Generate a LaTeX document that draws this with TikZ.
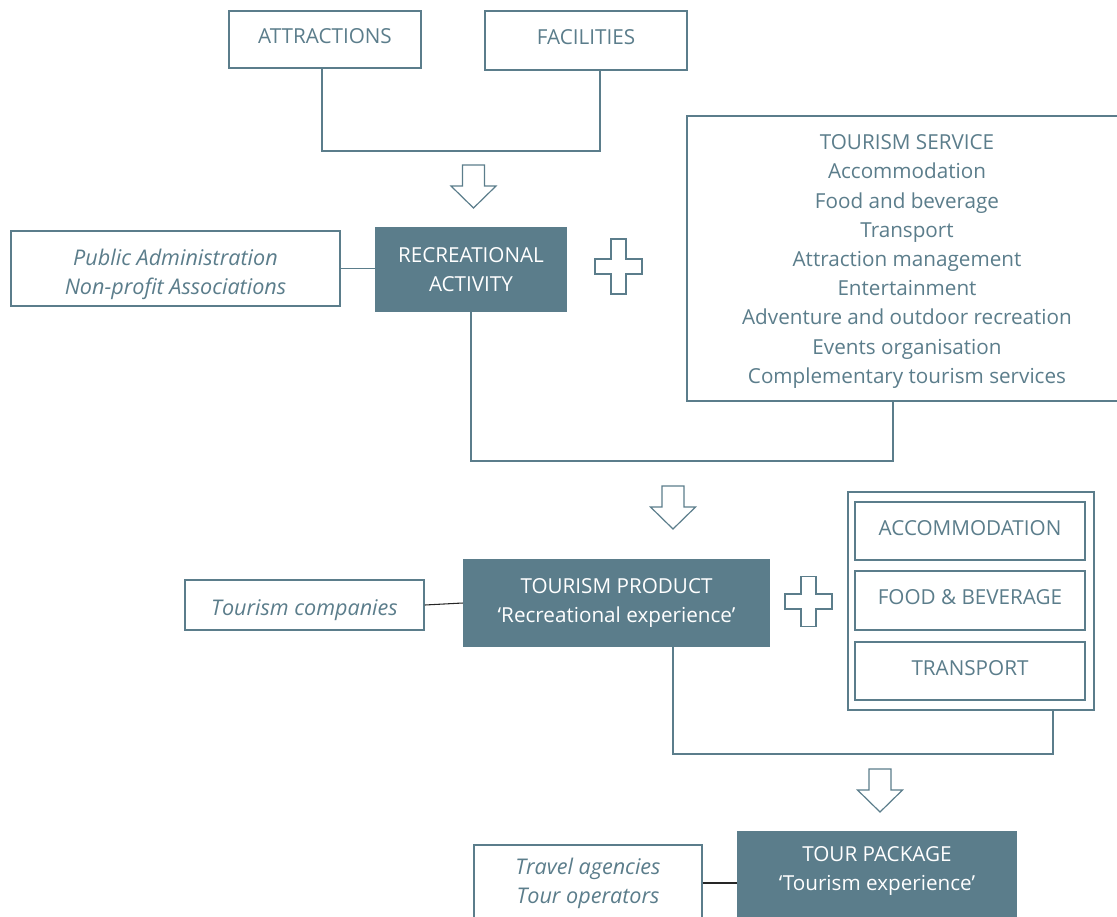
\documentclass[tikz,border=0pt]{standalone}
\usepackage{fontspec}
\setmainfont{Open Sans}
\usetikzlibrary{positioning}
\definecolor{slateteal}{RGB}{91,125,139}

\begin{document}
\begin{tikzpicture}[x=0.75pt,y=-0.75pt,font=\fontsize{15.5}{21.9}\selectfont]
  \tikzstyle{box}=[draw=slateteal,line width=1.3pt,fill=white,inner sep=0pt,
    align=center,text=slateteal]
  \tikzstyle{capsbox}=[box,text depth=4.5pt]
  \tikzstyle{core}=[fill=slateteal,inner sep=0pt,align=center,text=white]
  \tikzstyle{actor}=[box,font=\fontsize{16.2}{21.9}\selectfont\itshape]
  \tikzstyle{actortext}=[inner sep=0pt,align=center,text=slateteal,font=\fontsize{16.2}{21.9}\selectfont\itshape]
  \tikzstyle{conn}=[draw=slateteal,line width=1.3pt]
  \tikzstyle{link}=[draw=black!85,line width=0.8pt]
  \tikzstyle{hollow}=[draw=slateteal,line width=0.9pt,line join=miter]
  \useasboundingbox (0,0) rectangle (1117,917);
  \clip (0,0) rectangle (1117,917);
  % top row
  \node[capsbox,minimum width=144pt,minimum height=42.75pt] (attr) at (325,39.5) {ATTRACTIONS};
  \node[capsbox,minimum width=151.5pt,minimum height=44.25pt] (fac) at (586,40.5) {FACILITIES};
  \draw[conn] ([xshift=-2.25pt]attr.south) -- ++(0,82) -| ([xshift=10.5pt]fac.south);
  \coordinate (arrA) at (473.5,165);
  \draw[hollow] (arrA) ++(-11,0) -- ++(0,21) -- ++(-11.5,0) -- ++(22.5,22) -- ++(22.5,-22)
    -- ++(-11.5,0) -- ++(0,-21) -- cycle;
  % recreational activity
  \node[core,minimum width=144pt,minimum height=63.75pt] (recr) at (471,269.5) {RECREATIONAL\\ACTIVITY};
  \node[box,minimum width=246.75pt,minimum height=56.25pt,
    label={[actortext,yshift=-4.5pt]center:{Public Administration\\Non-profit Associations}}] (pub) at (175.5,268.5) {};
  \draw[conn] (pub.east) -- (pub.east -| recr.west);
  \coordinate (plusA) at (618.5,266.5);
  \draw[hollow] (plusA) ++(-7.5,-27.5) -- ++(15,0) -- ++(0,20) -- ++(16,0) -- ++(0,15)
    -- ++(-16,0) -- ++(0,20) -- ++(-15,0) -- ++(0,-20) -- ++(-16,0) -- ++(0,-15) -- ++(16,0) -- cycle;
  \node[box,minimum width=330pt,minimum height=213.75pt,
    label={[inner sep=0pt,align=center,text=slateteal,yshift=-2.25pt]center:{TOURISM SERVICE\\Accommodation\\Food and beverage\\Transport\\Attraction management\\
     Entertainment\\Adventure and outdoor recreation\\Events organisation\\Complementary tourism services}}] (serv) at (907,258.5) {};
  \draw[conn] (recr.south) -- ++(0,149) -| ([xshift=-10.5pt]serv.south);
  \coordinate (arrB) at (673,486);
  \draw[hollow] (arrB) ++(-11,0) -- ++(0,21) -- ++(-11.5,0) -- ++(22.5,22) -- ++(22.5,-22)
    -- ++(-11.5,0) -- ++(0,-21) -- cycle;
  % tourism product
  \node[core,minimum width=230.25pt,minimum height=66pt] (prod) at (616.5,603)
    {TOURISM PRODUCT\\`Recreational experience'};
  \node[box,minimum width=179.25pt,minimum height=37.5pt,
    label={[actortext,yshift=-3.75pt]center:Tourism companies}] (comp) at (304.5,605) {};
  \draw[link] (comp.east) -- (prod.west);
  \coordinate (plusB) at (808.5,601.5);
  \draw[hollow] (plusB) ++(-7.5,-25) -- ++(15,0) -- ++(0,17.5) -- ++(16,0) -- ++(0,15)
    -- ++(-16,0) -- ++(0,17.5) -- ++(-15,0) -- ++(0,-17.5) -- ++(-16,0) -- ++(0,-15) -- ++(16,0) -- cycle;
  \node[draw=slateteal,line width=0.8pt,minimum width=184.5pt,minimum height=163.5pt] (extra) at (971,601) {};
  \node[capsbox,minimum width=172.5pt,minimum height=43.5pt] (acc) at (970,531) {ACCOMMODATION};
  \node[capsbox,minimum width=172.5pt,minimum height=44.25pt] (food) at (970,600.5) {FOOD \& BEVERAGE};
  \node[capsbox,minimum width=172.5pt,minimum height=43.5pt] (trans) at (970,671) {TRANSPORT};
  \draw[conn] ([xshift=42.4pt]prod.south) -- ++(0,107) -| ([xshift=61.5pt]extra.south);
  \coordinate (arrC) at (880,769);
  \draw[hollow] (arrC) ++(-11,0) -- ++(0,21) -- ++(-11.5,0) -- ++(22.5,22) -- ++(22.5,-22)
    -- ++(-11.5,0) -- ++(0,-21) -- cycle;
  % tour package
  \node[core,anchor=north,minimum width=210pt,inner ysep=11.25pt,text depth=60pt] (pack) at (877,831)
    {TOUR PACKAGE\\`Tourism experience'};
  \node[actor,minimum width=171pt,minimum height=57pt] (trav) at (588,883) {Travel agencies\\Tour operators};
  \draw[link] (trav.east) -- (trav.east -| pack.west);
\end{tikzpicture}
\end{document}
